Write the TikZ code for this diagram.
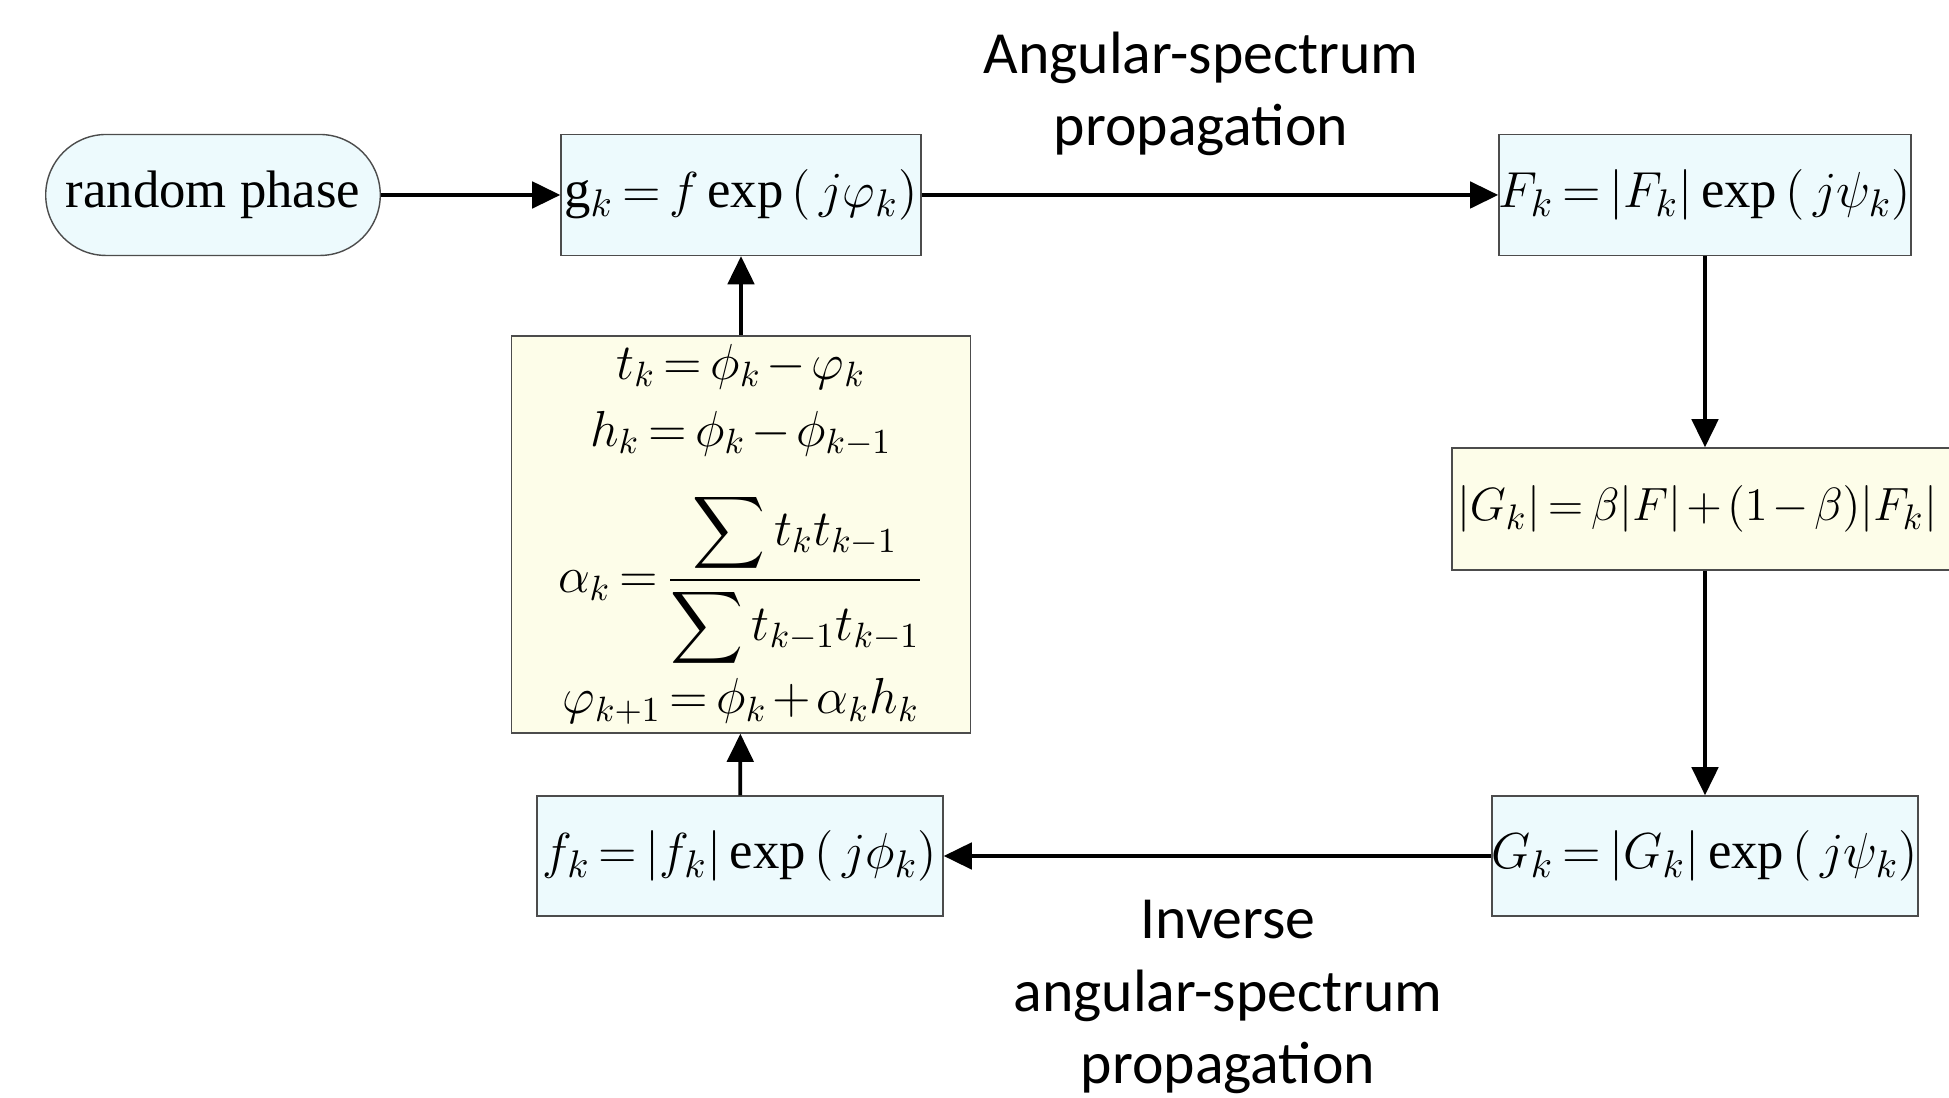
\documentclass[tikz,border=0pt]{standalone}
\usepackage{amsmath}
\usepackage{graphicx}
\usepackage{fontspec}
\setmainfont{Liberation Serif}
\newfontfamily\labelfont{Carlito}
\usepackage{xcolor}
\usepackage{tikz}
\usetikzlibrary{arrows.meta,shapes.misc,positioning}
\definecolor{boxblue}{RGB}{237,250,253}
\definecolor{boxyellow}{RGB}{253,253,233}
\newcommand{\tightmath}{\thickmuskip=3mu plus 1mu\medmuskip=2mu plus 1mu}

\begin{document}
\begin{tikzpicture}[
  bluebox/.style={draw=black!70,fill=boxblue,inner sep=0pt,minimum height=1.21cm,font=\fontsize{15}{18}\selectfont\tightmath},
  yellowbox/.style={draw=black!70,fill=boxyellow,inner sep=0pt,font=\fontsize{15}{18}\selectfont\tightmath},
  flow/.style={-{Triangle[length=8pt,width=7.5pt]},line width=1.1pt},
  caption/.style={font=\labelfont\fontsize{17}{20.5}\selectfont,align=center}
]
  \useasboundingbox (0,0) rectangle (19.49,10.98);
  % boxes of the loop
  \node[draw=black!70,fill=boxblue,rounded rectangle,minimum width=3.58cm,minimum height=1.21cm,font=\fontsize{15}{18}\selectfont] (rp) at (2.13,9.03) {random phase};
  \node[bluebox,minimum width=3.60cm] (g) at (7.41,9.03) {$\mathrm{g}_k=f\exp\left(\,j\varphi_k\right)$};
  \node[bluebox,minimum width=4.06cm] (Fk) at (17.05,9.03) {$F_k=\lvert F_k\rvert\exp\left(\,j\psi_k\right)$};
  \node[yellowbox,minimum height=1.22cm,inner xsep=0.05cm] (Gabs) at (17.05,5.89) {\makebox[4.96cm][l]{\resizebox{4.8cm}{!}{$\lvert G_k\rvert=\beta\lvert F\rvert+(1-\beta)\lvert F_k\rvert$}}};
  \node[bluebox,minimum width=4.14cm,minimum height=1.20cm] (Gk) at (17.05,2.42) {$G_k=\lvert G_k\rvert\exp\left(\,j\psi_k\right)$};
  \node[bluebox,minimum width=4.06cm,minimum height=1.20cm] (fk) at (7.40,2.42) {$f_k=\lvert f_k\rvert\exp\left(\,j\phi_k\right)$};
  \node[yellowbox,minimum width=4.59cm,minimum height=3.97cm,font=\fontsize{14}{17}\selectfont\tightmath] (upd) at (7.41,5.635) {$\begin{gathered}
    t_k=\phi_k-\varphi_k\\[-1pt]
    h_k=\phi_k-\phi_{k-1}\\[4pt]
    \alpha_k=\dfrac{\displaystyle\sum t_kt_{k-1}}{\displaystyle\sum t_{k-1}t_{k-1}}\\[-3pt]
    \varphi_{k+1}=\phi_k+\alpha_kh_k
  \end{gathered}$};
  % arrows
  \draw[flow] (rp) -- (g);
  \draw[flow] (g) -- (Fk);
  \draw[flow] (Fk) -- (Gabs);
  \draw[flow] (Gabs) -- (Gk);
  \draw[flow] (Gk) -- (fk);
  \draw[flow] (fk) -- (upd);
  \draw[flow] (upd) -- (g);
  % captions
  \node[caption] (fwd) at (12.01,10.04) {Angular-spectrum\\propagation};
  \node[caption] (inv) at (12.28,1.01) {Inverse\\angular-spectrum\\propagation};
\end{tikzpicture}
\end{document}
